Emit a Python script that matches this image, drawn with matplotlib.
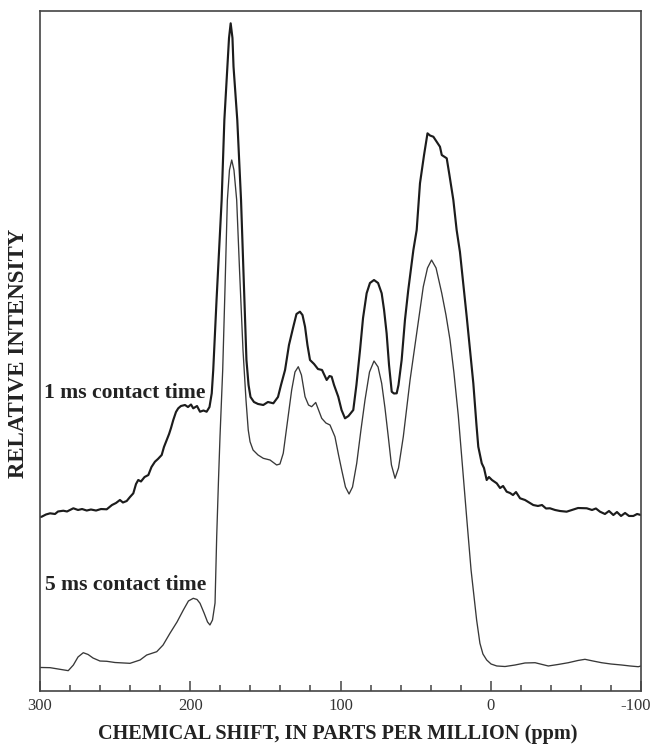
import matplotlib
matplotlib.use("Agg")
import matplotlib.pyplot as plt
import matplotlib.transforms as mtransforms
from matplotlib.ticker import MultipleLocator

plt.rcParams["axes.unicode_minus"] = False

# 13C CP/MAS spectrum, 5 ms contact time (thin trace)
ppm_5ms = [300.0, 293.3, 286.7, 281.2, 277.8, 274.7, 271.2, 268.0, 264.7, 260.1,
           255.6, 250.1, 240.1, 233.4, 229.0, 222.3, 218.1, 213.5, 208.8, 204.6,
           201.2, 198.0, 195.5, 193.5, 190.8, 188.5, 186.9, 185.2, 183.5, 182.4,
           181.2, 180.2, 178.4, 176.9, 175.3, 173.9, 172.4, 170.9, 169.1, 167.2,
           164.9, 162.9, 161.4, 160.2, 158.2, 154.9, 151.4, 146.9, 142.5, 140.3,
           138.1, 135.6, 132.5, 130.3, 128.1, 126.0, 123.6, 121.3, 119.2, 116.5,
           114.6, 112.5, 109.7, 107.0, 103.7, 101.3, 99.2, 96.7, 94.3, 92.0,
           89.2, 86.4, 83.7, 80.7, 77.7, 75.0, 72.6, 70.4, 68.2, 66.1,
           63.7, 61.4, 58.2, 53.7, 49.3, 44.9, 42.1, 39.4, 36.4, 32.6,
           29.8, 27.1, 24.5, 21.6, 18.8, 16.0, 13.1, 9.4, 7.2, 5.2,
           2.7, -0.2, -4.0, -9.5, -16.1, -22.8, -29.5, -38.3, -44.8, -51.6,
           -58.1, -62.7, -68.1, -73.8, -80.0, -87.2, -92.7, -98.2, -100.0]
int_5ms = [3.46, 3.43, 3.19, 2.99, 3.82, 5.00, 5.63, 5.37, 4.85, 4.41,
           4.37, 4.19, 4.07, 4.56, 5.29, 5.78, 6.76, 8.49, 10.15, 11.91,
           13.24, 13.63, 13.46, 12.90, 11.47, 10.15, 9.71, 10.44, 12.94, 22.69,
           31.03, 37.40, 47.21, 58.97, 72.21, 76.62, 78.09, 76.60, 72.21, 61.91,
           50.15, 42.79, 38.38, 36.66, 35.44, 34.71, 34.22, 33.97, 33.24, 33.38,
           34.96, 39.12, 44.26, 46.91, 47.69, 46.47, 43.28, 42.06, 41.81, 42.43,
           41.32, 40.10, 39.41, 39.12, 37.40, 34.71, 32.50, 30.00, 28.97, 30.00,
           33.49, 38.38, 42.79, 46.91, 48.53, 47.65, 45.25, 41.62, 37.40, 33.24,
           31.28, 32.79, 37.40, 45.74, 52.60, 59.46, 62.21, 63.38, 62.21, 58.49,
           55.29, 51.62, 46.80, 40.50, 33.00, 25.44, 17.79, 10.44, 7.01, 5.44,
           4.56, 3.97, 3.68, 3.60, 3.82, 4.12, 4.16, 3.68, 3.90, 4.16,
           4.49, 4.66, 4.41, 4.16, 3.97, 3.82, 3.68, 3.57, 3.68]

# 1 ms contact time (thick trace)
ppm_1ms = [300.0, 298.9, 296.0, 293.3, 290.0, 288.0, 284.5, 282.0, 277.8, 274.7,
           272.0, 268.9, 266.1, 262.7, 259.4, 255.6, 252.1, 249.4, 246.8, 244.8,
           242.3, 240.1, 237.9, 236.1, 234.6, 232.8, 230.4, 227.9, 225.8, 223.5,
           221.5, 219.0, 217.5, 215.7, 214.1, 212.8, 211.3, 209.5, 208.0, 206.2,
           203.5, 201.5, 199.5, 198.0, 195.5, 193.5, 191.2, 189.1, 187.2, 185.7,
           184.7, 182.5, 179.1, 177.3, 175.3, 174.2, 173.1, 171.9, 171.2, 168.7,
           166.2, 164.2, 162.6, 161.2, 159.9, 157.6, 154.9, 151.4, 148.3, 144.7,
           141.6, 139.6, 136.9, 134.3, 131.4, 129.3, 127.0, 125.3, 123.6, 122.0,
           120.3, 117.6, 115.0, 112.3, 109.2, 107.3, 105.9, 104.3, 101.5, 99.3,
           97.0, 94.7, 91.5, 89.4, 87.0, 85.0, 82.6, 80.4, 77.7, 75.0,
           72.6, 71.0, 69.3, 67.7, 65.9, 64.4, 62.6, 61.4, 59.3, 57.1,
           54.9, 51.5, 49.3, 47.1, 44.4, 42.1, 40.4, 38.2, 36.0, 33.8,
           32.6, 29.3, 27.5, 24.9, 22.7, 20.5, 16.0, 11.6, 9.5, 8.3,
           6.0, 4.5, 2.7, 1.2, -0.8, -4.0, -6.2, -8.2, -10.6, -12.8,
           -14.8, -16.8, -19.5, -22.8, -26.1, -28.3, -31.4, -34.1, -36.8, -39.4,
           -42.8, -46.1, -50.5, -54.1, -58.1, -63.9, -67.4, -70.0, -72.7, -76.0,
           -78.7, -81.6, -84.0, -86.7, -89.4, -92.0, -94.9, -97.4, -100.0]
int_1ms = [25.59, 25.63, 25.96, 26.13, 26.03, 26.40, 26.51, 26.40, 26.87, 26.62,
           26.76, 26.54, 26.69, 26.54, 26.76, 26.72, 27.35, 27.65, 28.09, 27.72,
           27.94, 28.53, 29.07, 30.44, 31.03, 30.81, 31.47, 31.76, 32.94, 33.72,
           34.12, 34.71, 35.88, 36.91, 37.79, 38.68, 39.85, 41.03, 41.57, 41.91,
           42.06, 41.76, 42.13, 41.57, 41.91, 41.07, 41.25, 41.07, 41.76, 43.78,
           47.21, 57.50, 72.21, 83.97, 91.81, 96.03, 98.19, 96.03, 91.81, 83.97,
           72.21, 58.97, 48.68, 45.00, 43.24, 42.50, 42.21, 42.06, 42.50, 42.31,
           43.24, 45.00, 47.21, 50.88, 53.57, 55.44, 55.78, 55.29, 53.57, 50.88,
           48.68, 48.09, 47.35, 47.21, 45.74, 46.32, 46.22, 45.00, 43.28, 41.32,
           40.10, 40.44, 41.32, 45.00, 50.15, 54.85, 58.49, 60.00, 60.44, 60.00,
           58.49, 56.03, 52.60, 47.94, 44.01, 43.75, 43.78, 45.00, 48.68, 54.56,
           58.97, 64.85, 67.79, 74.66, 78.82, 82.01, 81.69, 81.51, 80.78, 80.04,
           78.82, 78.34, 75.88, 72.21, 67.79, 64.56, 55.04, 45.25, 39.12, 35.93,
           33.49, 32.79, 31.03, 31.47, 31.03, 30.54, 29.85, 30.15, 29.31, 29.12,
           28.82, 29.26, 28.34, 28.09, 27.65, 27.35, 27.21, 27.35, 26.84, 26.87,
           26.62, 26.47, 26.37, 26.62, 26.91, 26.87, 26.62, 26.84, 26.37, 26.03,
           26.47, 25.88, 26.32, 25.74, 26.18, 25.74, 25.74, 26.03, 25.88]

trace_labels = ["1 ms contact time", "5 ms contact time"]
x_major = [300, 200, 100, 0, -100]

W, H = 655, 745
fig = plt.figure(figsize=(W / 100, H / 100), dpi=100, facecolor="white")
ax = fig.add_axes([40 / W, 1 - 691 / H, 601 / W, 680 / H])

ax.plot(ppm_1ms, int_1ms, color="#1c1c1c", lw=1.55, solid_joinstyle="round")
ax.plot(ppm_5ms, int_5ms, color="#383838", lw=0.95, solid_joinstyle="round")

ax.set_xlim(300, -100)
ax.set_ylim(0, 100)
ax.set_xticks(x_major)
ax.xaxis.set_minor_locator(MultipleLocator(20))
ax.set_xticklabels([str(v) for v in x_major], family="Liberation Serif",
                   fontsize=12, color="#333333")
ax.tick_params(axis="x", which="major", direction="in", length=7, width=1.1,
               color="#444444", pad=5)
ax.tick_params(axis="x", which="minor", direction="in", length=4, width=1.1,
               color="#444444")
ax.set_yticks([])
for s in ax.spines.values():
    s.set_linewidth(1.2)
    s.set_color("#444444")

# keep the last tick label inside the figure edge
last = ax.get_xticklabels()[-1]
last.set_transform(last.get_transform() +
                   mtransforms.ScaledTranslation(-5 / 100, 0, fig.dpi_scale_trans))

serif_bold = dict(family="Liberation Serif", weight="bold", color="#222222")
ax.text(0.006, 0.431, trace_labels[0], transform=ax.transAxes, ha="left",
        va="baseline", fontsize=15.6, **serif_bold)
ax.text(0.009, 0.1485, trace_labels[1], transform=ax.transAxes, ha="left",
        va="baseline", fontsize=15.6, **serif_bold)

fig.text(19 / W, 1 - 353 / H, "RELATIVE INTENSITY", rotation=90, ha="center",
         va="center", fontsize=16.5, **serif_bold)
fig.text(338 / W, 1 - 739 / H, "CHEMICAL SHIFT, IN PARTS PER MILLION (ppm)",
         ha="center", va="baseline", fontsize=14.6, **serif_bold)

fig.savefig("out.png", dpi=100, facecolor="white")
